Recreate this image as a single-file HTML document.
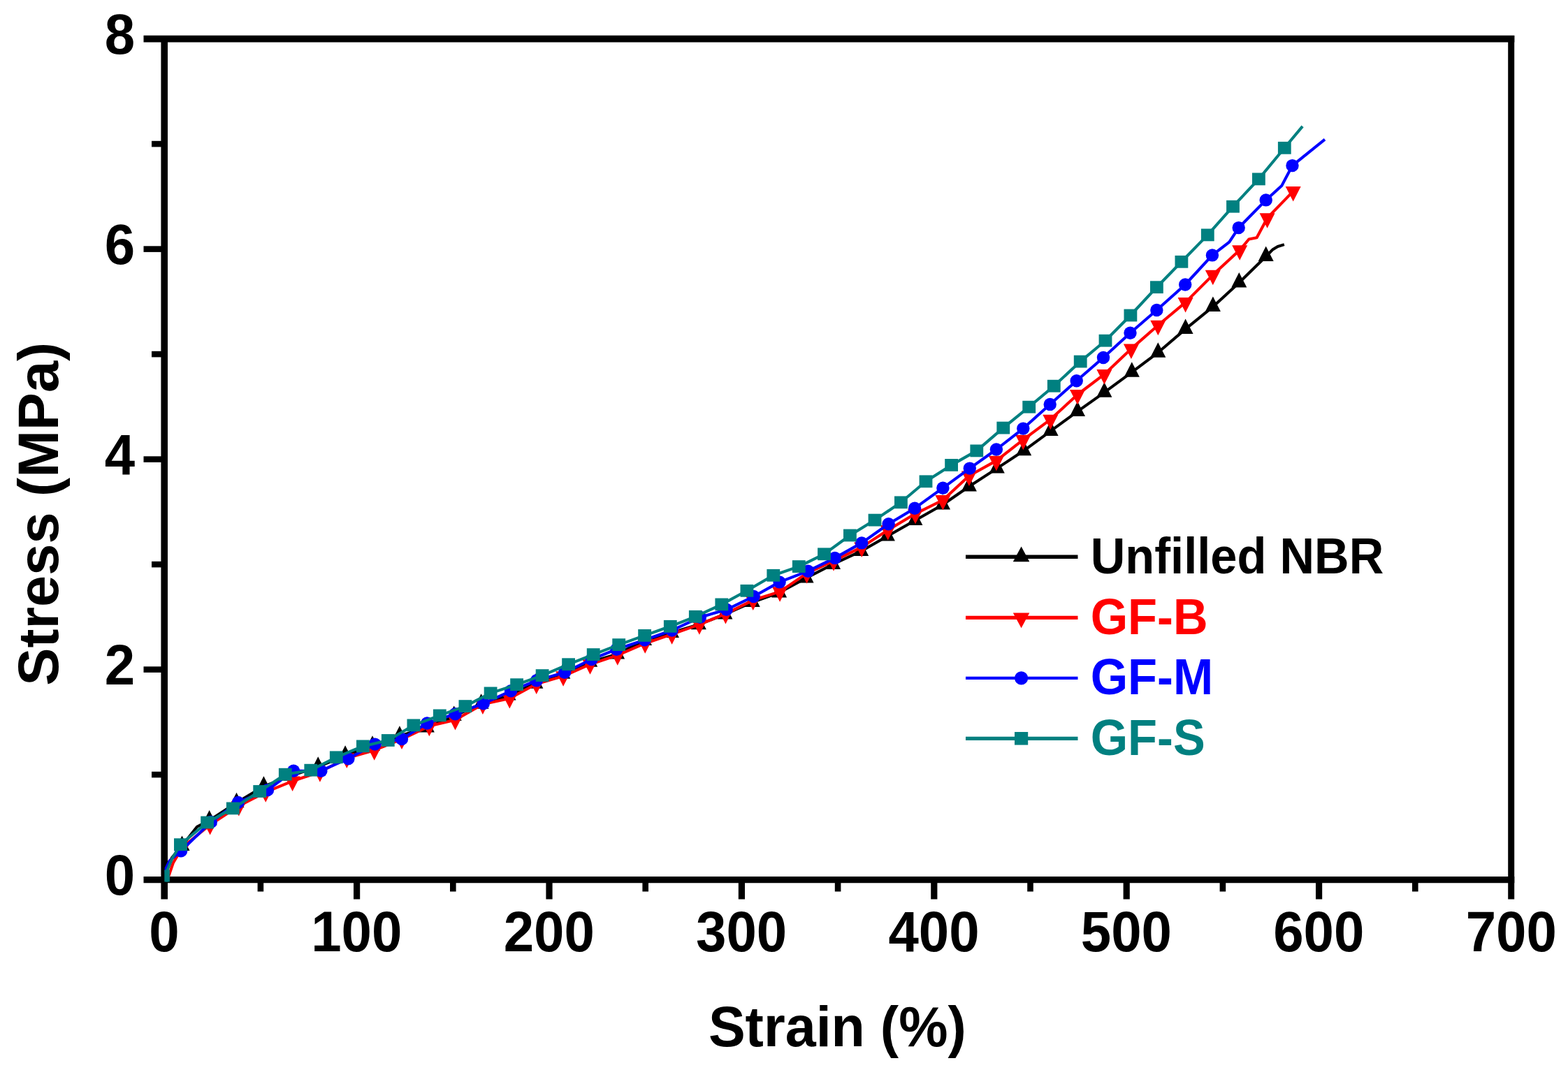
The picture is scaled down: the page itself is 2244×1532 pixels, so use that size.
<!DOCTYPE html>
<html lang="en">
<head>
<meta charset="utf-8">
<title>Stress-strain curves</title>
<style>
html,body{margin:0;padding:0;background:#fff;}
body{width:2244px;height:1532px;overflow:hidden;}
svg{display:block;}
text{font-family:"Liberation Sans",Arial,Helvetica,sans-serif;font-weight:700;}
.tk{font-size:80px;fill:#000;}
.lg{font-size:69.5px;}
</style>
</head>
<body>
<svg width="2244" height="1532" viewBox="0 0 2244 1532" role="img" aria-label="Stress-strain curves of unfilled NBR and GF-filled NBR">
<rect width="2244" height="1532" fill="#fff"/>
<g id="axes" stroke="#000" fill="none" stroke-linecap="butt">
<line x1="205.5" y1="55.6" x2="2167.3" y2="55.6" stroke-width="9.6"/>
<line x1="205.5" y1="1259.6" x2="2167.3" y2="1259.6" stroke-width="9.2"/>
<line x1="235.2" y1="51.1" x2="235.2" y2="1287.5" stroke-width="9.6"/>
<line x1="2162.7" y1="51.1" x2="2162.7" y2="1287.5" stroke-width="9.0"/>
<line x1="205.5" y1="958.6" x2="235.2" y2="958.6" stroke-width="8.6"/>
<line x1="205.5" y1="657.6" x2="235.2" y2="657.6" stroke-width="8.6"/>
<line x1="205.5" y1="356.6" x2="235.2" y2="356.6" stroke-width="8.6"/>
<line x1="217" y1="1109.1" x2="235.2" y2="1109.1" stroke-width="8.6"/>
<line x1="217" y1="808.1" x2="235.2" y2="808.1" stroke-width="8.6"/>
<line x1="217" y1="507.1" x2="235.2" y2="507.1" stroke-width="8.6"/>
<line x1="217" y1="206.1" x2="235.2" y2="206.1" stroke-width="8.6"/>
<line x1="510.6" y1="1259.6" x2="510.6" y2="1287.5" stroke-width="9.2"/>
<line x1="786.0" y1="1259.6" x2="786.0" y2="1287.5" stroke-width="9.2"/>
<line x1="1061.4" y1="1259.6" x2="1061.4" y2="1287.5" stroke-width="9.2"/>
<line x1="1336.8" y1="1259.6" x2="1336.8" y2="1287.5" stroke-width="9.2"/>
<line x1="1612.2" y1="1259.6" x2="1612.2" y2="1287.5" stroke-width="9.2"/>
<line x1="1887.6" y1="1259.6" x2="1887.6" y2="1287.5" stroke-width="9.2"/>
<line x1="372.9" y1="1259.6" x2="372.9" y2="1276.5" stroke-width="8.6"/>
<line x1="648.3" y1="1259.6" x2="648.3" y2="1276.5" stroke-width="8.6"/>
<line x1="923.7" y1="1259.6" x2="923.7" y2="1276.5" stroke-width="8.6"/>
<line x1="1199.1" y1="1259.6" x2="1199.1" y2="1276.5" stroke-width="8.6"/>
<line x1="1474.5" y1="1259.6" x2="1474.5" y2="1276.5" stroke-width="8.6"/>
<line x1="1749.9" y1="1259.6" x2="1749.9" y2="1276.5" stroke-width="8.6"/>
<line x1="2025.3" y1="1259.6" x2="2025.3" y2="1276.5" stroke-width="8.6"/>
</g>
<g id="curves" fill="none" stroke-linejoin="round" stroke-linecap="butt">
<path d="M237.0 1261.5 L238.5 1245.0 L246.0 1228.0 L260.5 1211.0 L282.0 1183.8 L299.6 1174.6 L338.5 1149.3 L377.4 1125.9 L416.3 1110.9 L455.2 1097.8 L494.1 1081.9 L533.0 1067.8 L571.9 1053.8 L610.8 1041.6 L649.7 1025.0 L688.6 1007.9 L727.5 995.7 L766.4 978.8 L805.3 964.8 L844.2 947.9 L883.1 936.7 L922.0 917.0 L960.9 906.0 L999.8 894.3 L1037.4 879.5 L1076.7 862.2 L1115.1 848.5 L1153.6 827.6 L1192.0 808.0 L1232.2 789.2 L1269.9 767.7 L1309.4 745.2 L1349.0 722.7 L1386.9 696.5 L1426.8 670.6 L1465.2 645.3 L1503.6 617.2 L1542.0 589.1 L1580.4 561.9 L1619.8 532.9 L1657.3 504.8 L1696.6 471.1 L1735.9 439.2 L1773.3 404.7 L1811.7 367.2 L1821.1 357.6 L1828.5 353.0 L1837.9 350.1" stroke="#000000" stroke-width="4.1"/>
<g fill="#000000" stroke="none"><polygon points="249.5,1217.9 271.5,1217.9 260.5,1196.4"/><polygon points="288.6,1181.5 310.6,1181.5 299.6,1160.0"/><polygon points="327.5,1156.2 349.5,1156.2 338.5,1134.7"/><polygon points="366.4,1132.8 388.4,1132.8 377.4,1111.3"/><polygon points="405.3,1117.8 427.3,1117.8 416.3,1096.3"/><polygon points="444.2,1104.7 466.2,1104.7 455.2,1083.2"/><polygon points="483.1,1088.8 505.1,1088.8 494.1,1067.3"/><polygon points="522.0,1074.7 544.0,1074.7 533.0,1053.2"/><polygon points="560.9,1060.7 582.9,1060.7 571.9,1039.2"/><polygon points="599.8,1048.5 621.8,1048.5 610.8,1027.0"/><polygon points="638.7,1031.9 660.7,1031.9 649.7,1010.4"/><polygon points="677.6,1014.8 699.6,1014.8 688.6,993.3"/><polygon points="716.5,1002.6 738.5,1002.6 727.5,981.1"/><polygon points="755.4,985.7 777.4,985.7 766.4,964.2"/><polygon points="794.3,971.7 816.3,971.7 805.3,950.2"/><polygon points="833.2,954.8 855.2,954.8 844.2,933.3"/><polygon points="872.1,943.6 894.1,943.6 883.1,922.1"/><polygon points="911.0,923.9 933.0,923.9 922.0,902.4"/><polygon points="949.9,912.9 971.9,912.9 960.9,891.4"/><polygon points="988.8,901.2 1010.8,901.2 999.8,879.7"/><polygon points="1026.4,886.4 1048.4,886.4 1037.4,864.9"/><polygon points="1065.7,869.1 1087.7,869.1 1076.7,847.6"/><polygon points="1104.1,855.4 1126.1,855.4 1115.1,833.9"/><polygon points="1142.6,834.5 1164.6,834.5 1153.6,813.0"/><polygon points="1181.0,814.9 1203.0,814.9 1192.0,793.4"/><polygon points="1221.2,796.1 1243.2,796.1 1232.2,774.6"/><polygon points="1258.9,774.6 1280.9,774.6 1269.9,753.1"/><polygon points="1298.4,752.1 1320.4,752.1 1309.4,730.6"/><polygon points="1338.0,729.6 1360.0,729.6 1349.0,708.1"/><polygon points="1375.9,703.4 1397.9,703.4 1386.9,681.9"/><polygon points="1415.8,677.5 1437.8,677.5 1426.8,656.0"/><polygon points="1454.2,652.2 1476.2,652.2 1465.2,630.7"/><polygon points="1492.6,624.1 1514.6,624.1 1503.6,602.6"/><polygon points="1531.0,596.0 1553.0,596.0 1542.0,574.5"/><polygon points="1569.4,568.8 1591.4,568.8 1580.4,547.3"/><polygon points="1608.8,539.8 1630.8,539.8 1619.8,518.3"/><polygon points="1646.3,511.7 1668.3,511.7 1657.3,490.2"/><polygon points="1685.6,478.0 1707.6,478.0 1696.6,456.5"/><polygon points="1724.9,446.1 1746.9,446.1 1735.9,424.6"/><polygon points="1762.3,411.6 1784.3,411.6 1773.3,390.1"/><polygon points="1800.7,374.1 1822.7,374.1 1811.7,352.6"/></g>
<path d="M239.5 1261.5 L241.8 1253.0 L247.8 1235.5 L261.6 1212.5 L300.6 1181.0 L341.8 1153.9 L380.2 1134.2 L418.6 1118.3 L457.9 1105.2 L496.3 1085.5 L535.7 1074.2 L575.0 1058.3 L614.3 1039.6 L651.5 1030.8 L690.9 1008.3 L729.3 999.9 L767.7 979.3 L806.1 968.1 L844.5 951.2 L883.8 938.1 L923.2 921.2 L961.6 908.1 L1000.9 894.1 L1038.4 878.9 L1077.7 859.3 L1116.1 847.1 L1154.6 820.9 L1193.0 803.1 L1233.2 783.4 L1270.7 759.0 L1310.0 735.6 L1349.4 716.0 L1386.9 681.3 L1425.9 659.6 L1464.3 629.6 L1503.3 600.6 L1542.0 565.0 L1580.4 535.9 L1618.9 499.4 L1657.3 465.7 L1696.6 432.9 L1735.8 393.6 L1774.2 358.1 L1787.3 342.5 L1798.6 340.3 L1813.6 312.2 L1850.7 273.8" stroke="#ff0000" stroke-width="4.1"/>
<g fill="#ff0000" stroke="none"><polygon points="250.6,1205.6 272.6,1205.6 261.6,1227.1"/><polygon points="289.6,1174.1 311.6,1174.1 300.6,1195.6"/><polygon points="330.8,1147.0 352.8,1147.0 341.8,1168.5"/><polygon points="369.2,1127.3 391.2,1127.3 380.2,1148.8"/><polygon points="407.6,1111.4 429.6,1111.4 418.6,1132.9"/><polygon points="446.9,1098.3 468.9,1098.3 457.9,1119.8"/><polygon points="485.3,1078.6 507.3,1078.6 496.3,1100.1"/><polygon points="524.7,1067.3 546.7,1067.3 535.7,1088.8"/><polygon points="564.0,1051.4 586.0,1051.4 575.0,1072.9"/><polygon points="603.3,1032.7 625.3,1032.7 614.3,1054.2"/><polygon points="640.5,1023.9 662.5,1023.9 651.5,1045.4"/><polygon points="679.9,1001.4 701.9,1001.4 690.9,1022.9"/><polygon points="718.3,993.0 740.3,993.0 729.3,1014.5"/><polygon points="756.7,972.4 778.7,972.4 767.7,993.9"/><polygon points="795.1,961.2 817.1,961.2 806.1,982.7"/><polygon points="833.5,944.3 855.5,944.3 844.5,965.8"/><polygon points="872.8,931.2 894.8,931.2 883.8,952.7"/><polygon points="912.2,914.3 934.2,914.3 923.2,935.8"/><polygon points="950.6,901.2 972.6,901.2 961.6,922.7"/><polygon points="989.9,887.2 1011.9,887.2 1000.9,908.7"/><polygon points="1027.4,872.0 1049.4,872.0 1038.4,893.5"/><polygon points="1066.7,852.4 1088.7,852.4 1077.7,873.9"/><polygon points="1105.1,840.2 1127.1,840.2 1116.1,861.7"/><polygon points="1143.6,814.0 1165.6,814.0 1154.6,835.5"/><polygon points="1182.0,796.2 1204.0,796.2 1193.0,817.7"/><polygon points="1222.2,776.5 1244.2,776.5 1233.2,798.0"/><polygon points="1259.7,752.1 1281.7,752.1 1270.7,773.6"/><polygon points="1299.0,728.7 1321.0,728.7 1310.0,750.2"/><polygon points="1338.4,709.1 1360.4,709.1 1349.4,730.6"/><polygon points="1375.9,674.4 1397.9,674.4 1386.9,695.9"/><polygon points="1414.9,652.7 1436.9,652.7 1425.9,674.2"/><polygon points="1453.3,622.7 1475.3,622.7 1464.3,644.2"/><polygon points="1492.3,593.7 1514.3,593.7 1503.3,615.2"/><polygon points="1531.0,558.1 1553.0,558.1 1542.0,579.6"/><polygon points="1569.4,529.0 1591.4,529.0 1580.4,550.5"/><polygon points="1607.9,492.5 1629.9,492.5 1618.9,514.0"/><polygon points="1646.3,458.8 1668.3,458.8 1657.3,480.3"/><polygon points="1685.6,426.0 1707.6,426.0 1696.6,447.5"/><polygon points="1724.8,386.7 1746.8,386.7 1735.8,408.2"/><polygon points="1763.2,351.2 1785.2,351.2 1774.2,372.7"/><polygon points="1802.6,305.3 1824.6,305.3 1813.6,326.8"/><polygon points="1839.7,266.9 1861.7,266.9 1850.7,288.4"/></g>
<path d="M238.5 1261.5 L237.6 1243.0 L242.5 1232.5 L259.1 1218.3 L301.8 1177.0 L340.8 1148.9 L383.0 1131.1 L420.1 1103.7 L459.4 1103.7 L498.4 1086.2 L536.6 1065.6 L575.0 1058.1 L611.2 1035.5 L651.5 1022.3 L691.8 1007.3 L731.1 989.3 L767.9 974.4 L808.1 962.8 L846.6 944.0 L882.4 929.7 L922.6 916.3 L961.6 902.5 L1001.9 883.8 L1039.7 872.8 L1078.6 854.0 L1115.6 833.4 L1156.4 817.7 L1194.8 798.9 L1233.2 777.4 L1271.6 750.2 L1309.1 727.7 L1349.4 698.7 L1387.8 670.6 L1425.9 643.5 L1464.3 613.6 L1502.7 578.9 L1540.7 545.2 L1579.0 512.0 L1617.5 476.8 L1655.4 444.0 L1696.2 407.5 L1734.9 365.4 L1759.2 346.7 L1772.7 326.1 L1811.7 286.4 L1834.2 266.1 L1849.5 237.1 L1896.0 199.6" stroke="#0000ff" stroke-width="4.1"/>
<g fill="#0000ff" stroke="none"><circle cx="259.1" cy="1218.3" r="9.2"/><circle cx="301.8" cy="1177.0" r="9.2"/><circle cx="340.8" cy="1148.9" r="9.2"/><circle cx="383.0" cy="1131.1" r="9.2"/><circle cx="420.1" cy="1103.7" r="9.2"/><circle cx="459.4" cy="1103.7" r="9.2"/><circle cx="498.4" cy="1086.2" r="9.2"/><circle cx="536.6" cy="1065.6" r="9.2"/><circle cx="575.0" cy="1058.1" r="9.2"/><circle cx="611.2" cy="1035.5" r="9.2"/><circle cx="651.5" cy="1022.3" r="9.2"/><circle cx="691.8" cy="1007.3" r="9.2"/><circle cx="731.1" cy="989.3" r="9.2"/><circle cx="767.9" cy="974.4" r="9.2"/><circle cx="808.1" cy="962.8" r="9.2"/><circle cx="846.6" cy="944.0" r="9.2"/><circle cx="882.4" cy="929.7" r="9.2"/><circle cx="922.6" cy="916.3" r="9.2"/><circle cx="961.6" cy="902.5" r="9.2"/><circle cx="1001.9" cy="883.8" r="9.2"/><circle cx="1039.7" cy="872.8" r="9.2"/><circle cx="1078.6" cy="854.0" r="9.2"/><circle cx="1115.6" cy="833.4" r="9.2"/><circle cx="1156.4" cy="817.7" r="9.2"/><circle cx="1194.8" cy="798.9" r="9.2"/><circle cx="1233.2" cy="777.4" r="9.2"/><circle cx="1271.6" cy="750.2" r="9.2"/><circle cx="1309.1" cy="727.7" r="9.2"/><circle cx="1349.4" cy="698.7" r="9.2"/><circle cx="1387.8" cy="670.6" r="9.2"/><circle cx="1425.9" cy="643.5" r="9.2"/><circle cx="1464.3" cy="613.6" r="9.2"/><circle cx="1502.7" cy="578.9" r="9.2"/><circle cx="1540.7" cy="545.2" r="9.2"/><circle cx="1579.0" cy="512.0" r="9.2"/><circle cx="1617.5" cy="476.8" r="9.2"/><circle cx="1655.4" cy="444.0" r="9.2"/><circle cx="1696.2" cy="407.5" r="9.2"/><circle cx="1734.9" cy="365.4" r="9.2"/><circle cx="1772.7" cy="326.1" r="9.2"/><circle cx="1811.7" cy="286.4" r="9.2"/><circle cx="1849.5" cy="237.1" r="9.2"/></g>
<path d="M239.0 1262.5 L239.3 1246.0 L247.0 1228.0 L258.4 1209.2 L296.6 1177.5 L333.3 1157.4 L371.7 1133.0 L408.3 1108.7 L444.8 1102.7 L481.3 1084.3 L519.4 1068.4 L555.3 1060.0 L591.9 1038.4 L629.3 1024.4 L665.9 1011.1 L702.1 992.4 L739.6 980.2 L776.1 967.1 L813.6 951.2 L849.2 937.1 L885.7 923.1 L922.6 909.9 L959.3 896.8 L995.3 882.8 L1032.8 865.4 L1068.9 845.8 L1106.8 823.8 L1143.3 811.1 L1179.5 793.3 L1216.4 766.5 L1252.0 744.6 L1289.4 719.3 L1325.0 689.3 L1361.6 665.9 L1397.8 645.4 L1435.8 612.6 L1472.7 582.7 L1508.3 552.7 L1546.2 517.6 L1582.0 487.7 L1617.9 451.5 L1655.4 411.2 L1690.9 374.8 L1728.3 336.4 L1764.5 295.7 L1801.4 256.4 L1838.3 211.8 L1864.1 180.9" stroke="#008080" stroke-width="4.1"/>
<g fill="#008080" stroke="none"><rect x="249.0" y="1200.3" width="18.8" height="17.8"/><rect x="287.2" y="1168.6" width="18.8" height="17.8"/><rect x="323.9" y="1148.5" width="18.8" height="17.8"/><rect x="362.3" y="1124.1" width="18.8" height="17.8"/><rect x="398.9" y="1099.8" width="18.8" height="17.8"/><rect x="435.4" y="1093.8" width="18.8" height="17.8"/><rect x="471.9" y="1075.4" width="18.8" height="17.8"/><rect x="510.0" y="1059.5" width="18.8" height="17.8"/><rect x="545.9" y="1051.1" width="18.8" height="17.8"/><rect x="582.5" y="1029.5" width="18.8" height="17.8"/><rect x="619.9" y="1015.5" width="18.8" height="17.8"/><rect x="656.5" y="1002.2" width="18.8" height="17.8"/><rect x="692.7" y="983.5" width="18.8" height="17.8"/><rect x="730.2" y="971.3" width="18.8" height="17.8"/><rect x="766.7" y="958.2" width="18.8" height="17.8"/><rect x="804.2" y="942.3" width="18.8" height="17.8"/><rect x="839.8" y="928.2" width="18.8" height="17.8"/><rect x="876.3" y="914.2" width="18.8" height="17.8"/><rect x="913.2" y="901.0" width="18.8" height="17.8"/><rect x="949.9" y="887.9" width="18.8" height="17.8"/><rect x="985.9" y="873.9" width="18.8" height="17.8"/><rect x="1023.4" y="856.5" width="18.8" height="17.8"/><rect x="1059.5" y="836.9" width="18.8" height="17.8"/><rect x="1097.4" y="814.9" width="18.8" height="17.8"/><rect x="1133.9" y="802.2" width="18.8" height="17.8"/><rect x="1170.1" y="784.4" width="18.8" height="17.8"/><rect x="1207.0" y="757.6" width="18.8" height="17.8"/><rect x="1242.6" y="735.7" width="18.8" height="17.8"/><rect x="1280.0" y="710.4" width="18.8" height="17.8"/><rect x="1315.6" y="680.4" width="18.8" height="17.8"/><rect x="1352.2" y="657.0" width="18.8" height="17.8"/><rect x="1388.4" y="636.5" width="18.8" height="17.8"/><rect x="1426.4" y="603.7" width="18.8" height="17.8"/><rect x="1463.3" y="573.8" width="18.8" height="17.8"/><rect x="1498.9" y="543.8" width="18.8" height="17.8"/><rect x="1536.8" y="508.7" width="18.8" height="17.8"/><rect x="1572.6" y="478.8" width="18.8" height="17.8"/><rect x="1608.5" y="442.6" width="18.8" height="17.8"/><rect x="1646.0" y="402.3" width="18.8" height="17.8"/><rect x="1681.5" y="365.9" width="18.8" height="17.8"/><rect x="1718.9" y="327.5" width="18.8" height="17.8"/><rect x="1755.1" y="286.8" width="18.8" height="17.8"/><rect x="1792.0" y="247.5" width="18.8" height="17.8"/><rect x="1828.9" y="202.9" width="18.8" height="17.8"/></g>
<rect x="235.3" y="1245.5" width="7.6" height="17" fill="#008080"/>
</g>
<g id="ticklabels" class="tk">
<text transform="translate(193.2 1280.8) scale(0.975 1.022)" text-anchor="end">0</text>
<text transform="translate(193.2 979.8) scale(0.975 1.022)" text-anchor="end">2</text>
<text transform="translate(193.2 678.8) scale(0.975 1.022)" text-anchor="end">4</text>
<text transform="translate(193.2 377.8) scale(0.975 1.022)" text-anchor="end">6</text>
<text transform="translate(193.2 76.8) scale(0.975 1.022)" text-anchor="end">8</text>
<text transform="translate(234.9 1362.0) scale(0.975 1.022)" text-anchor="middle">0</text>
<text transform="translate(510.3 1362.0) scale(0.975 1.022)" text-anchor="middle">100</text>
<text transform="translate(785.7 1362.0) scale(0.975 1.022)" text-anchor="middle">200</text>
<text transform="translate(1061.1 1362.0) scale(0.975 1.022)" text-anchor="middle">300</text>
<text transform="translate(1336.5 1362.0) scale(0.975 1.022)" text-anchor="middle">400</text>
<text transform="translate(1611.9 1362.0) scale(0.975 1.022)" text-anchor="middle">500</text>
<text transform="translate(1887.3 1362.0) scale(0.975 1.022)" text-anchor="middle">600</text>
<text transform="translate(2162.7 1362.0) scale(0.975 1.022)" text-anchor="middle">700</text>
</g>
<text class="tk" transform="translate(1198.3 1497.6) scale(0.988 1.01)" text-anchor="middle">Strain (%)</text>
<text class="tk" transform="translate(83.3 735.8) rotate(-90) scale(1.0 1.0)" text-anchor="middle" style="font-size:81.2px">Stress (MPa)</text>
<g id="legend">
<line x1="1382" y1="797.3" x2="1542.5" y2="797.3" stroke="#000000" stroke-width="5.6"/>
<g fill="#000000"><polygon points="1449.8,804.2 1473.3,804.2 1461.6,782.6"/></g>
<text class="lg" transform="translate(1560.7 821.2) scale(0.988 1.033)" fill="#000000">Unfilled NBR</text>
<line x1="1382" y1="884.4" x2="1542.5" y2="884.4" stroke="#ff0000" stroke-width="5.4"/>
<g fill="#ff0000"><polygon points="1449.8,877.4 1473.3,877.4 1461.6,899.2"/></g>
<text class="lg" transform="translate(1560.7 908.0) scale(0.988 1.033)" fill="#ff0000">GF-B</text>
<line x1="1382" y1="970.9" x2="1542.5" y2="970.9" stroke="#0000ff" stroke-width="4.4"/>
<g fill="#0000ff"><circle cx="1461.6" cy="970.9" r="9.6"/></g>
<text class="lg" transform="translate(1560.7 994.4) scale(0.988 1.033)" fill="#0000ff">GF-M</text>
<line x1="1382" y1="1057.3" x2="1542.5" y2="1057.3" stroke="#008080" stroke-width="5.2"/>
<g fill="#008080"><rect x="1452.0" y="1048.0" width="19.2" height="18.6"/></g>
<text class="lg" transform="translate(1560.7 1081.0) scale(0.988 1.033)" fill="#008080">GF-S</text>
</g>
</svg>
</body>
</html>
